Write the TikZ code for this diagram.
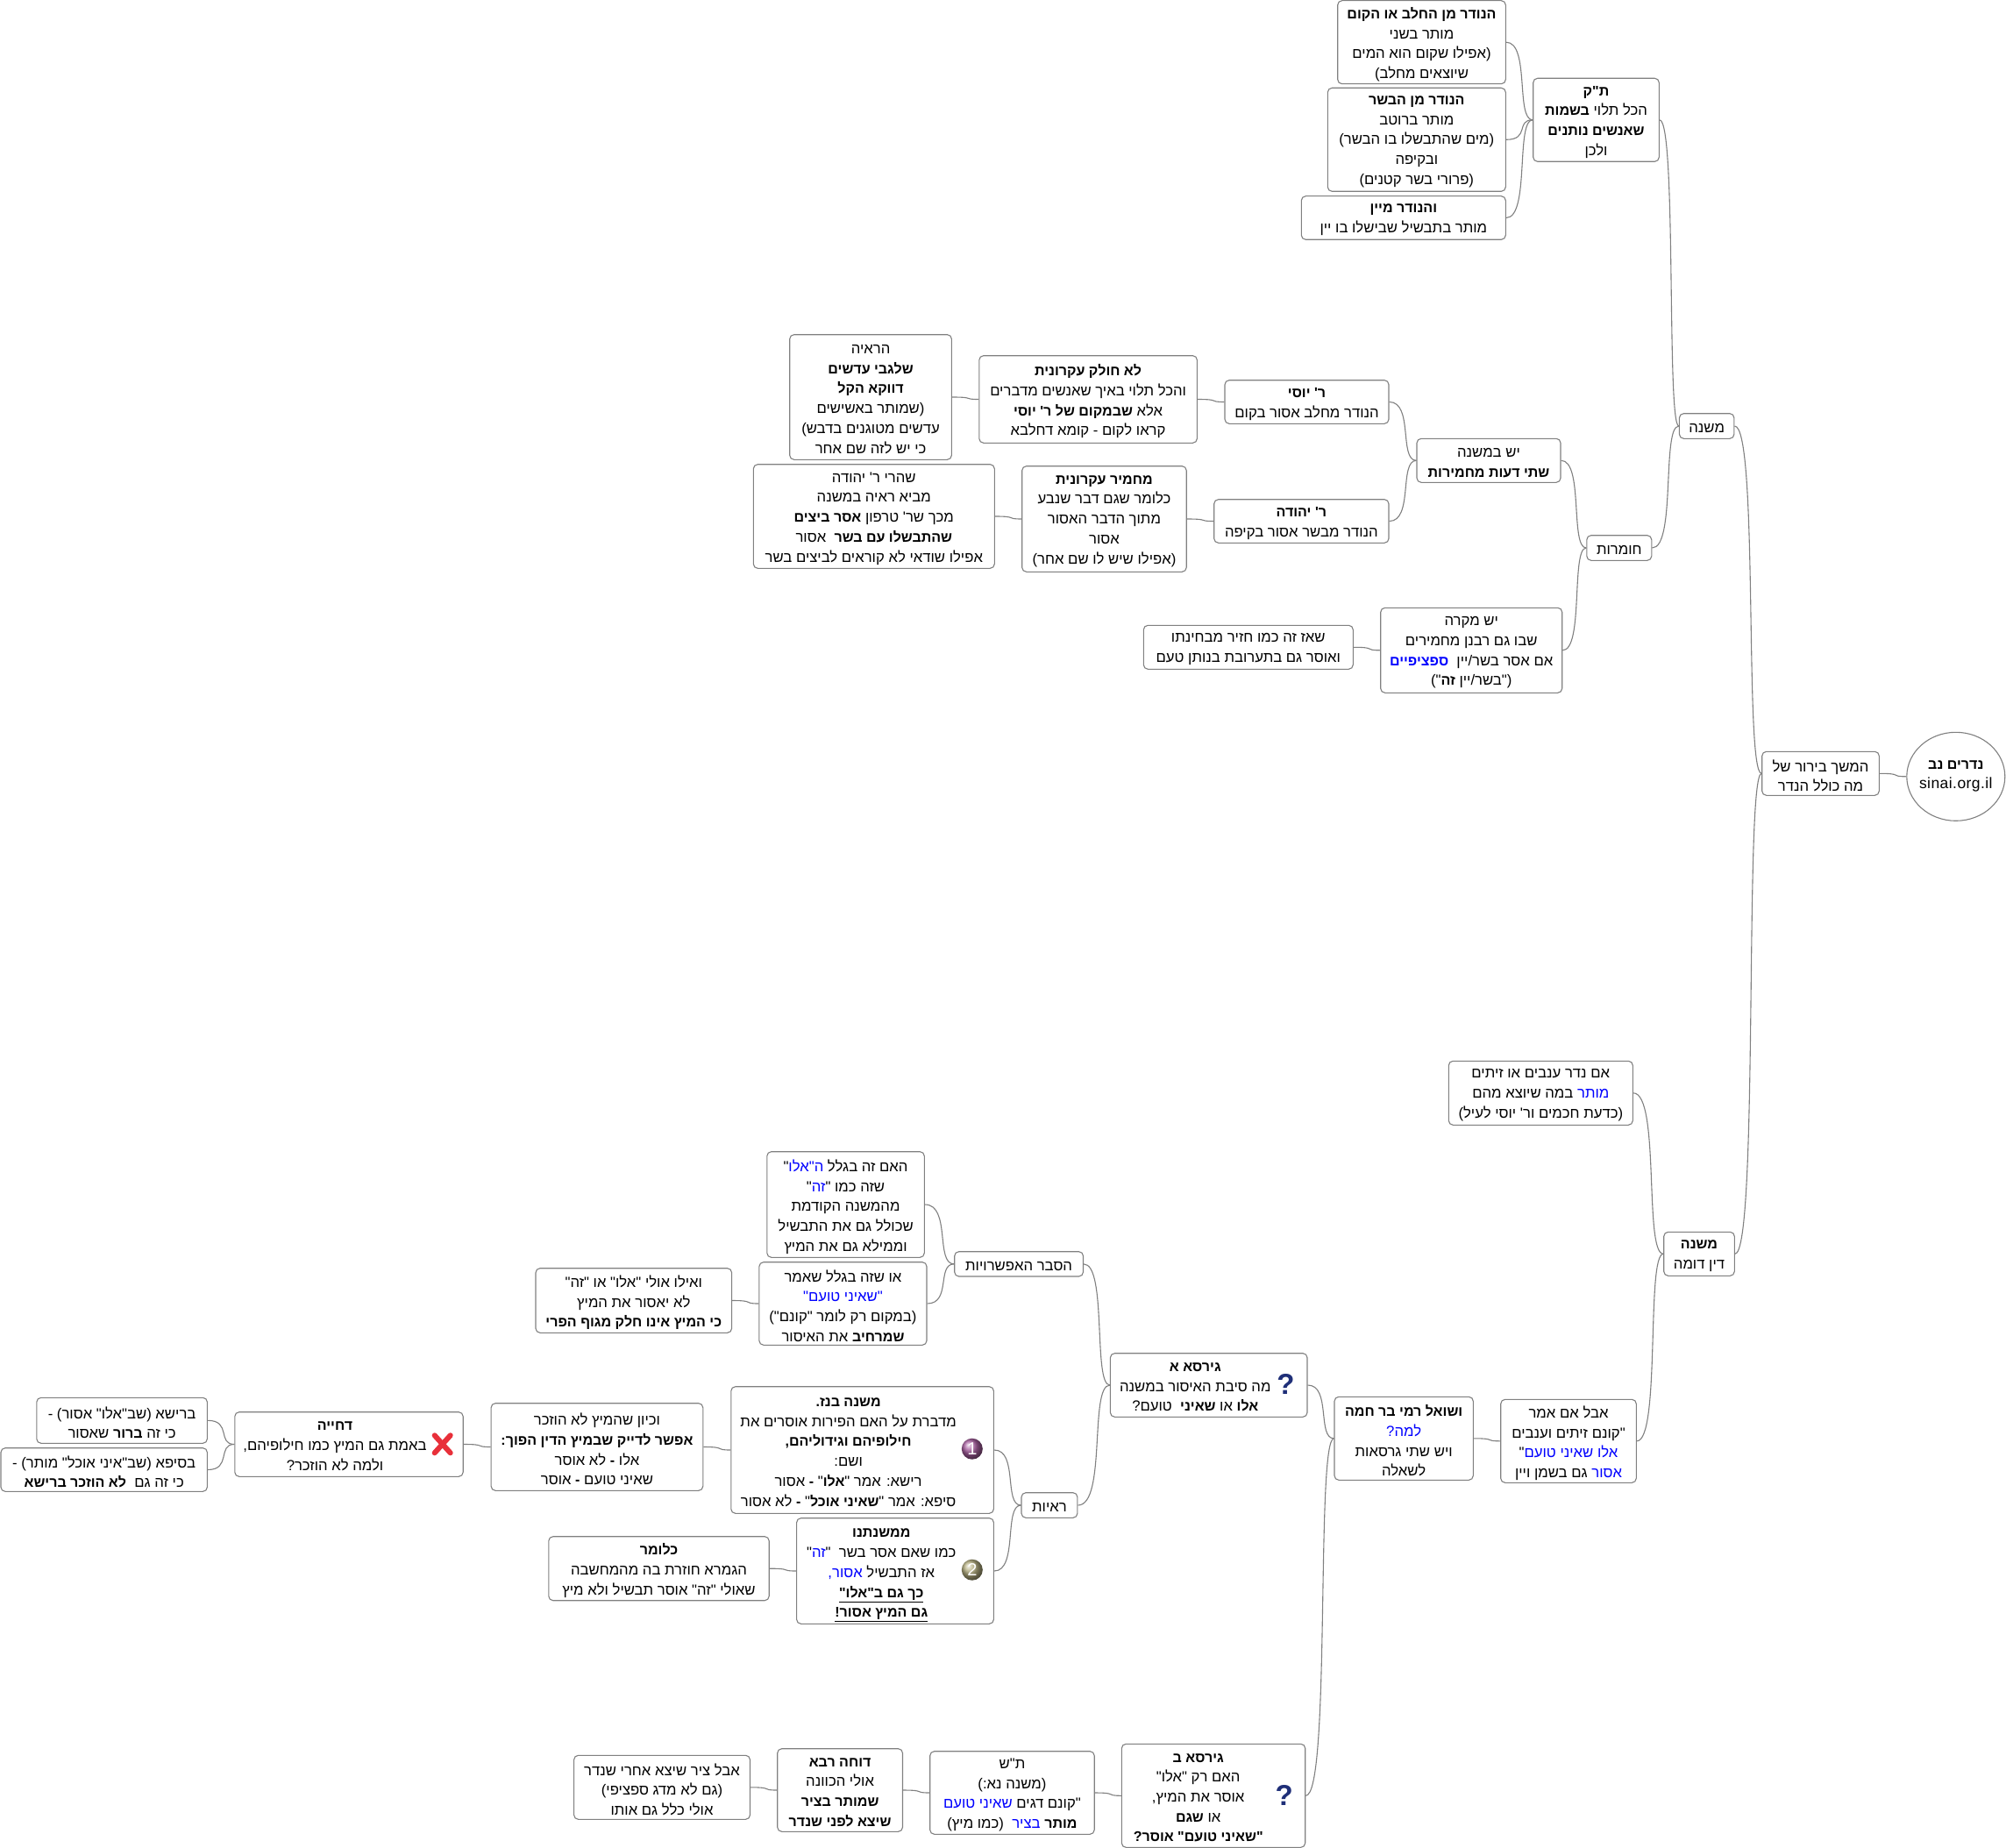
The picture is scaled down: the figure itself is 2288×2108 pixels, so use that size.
\documentclass[tikz,border=0pt]{standalone}
\usepackage{fontspec}
\usetikzlibrary{calc,shapes.geometric}
\TeXXeTstate=1
\newfontfamily\hbf[Script=Hebrew,BoldFeatures={Scale=0.96}]{Liberation Sans}
\newfontfamily\latf{Liberation Sans}
\newfontfamily\latsp[LetterSpace=2.5]{Liberation Sans}
\definecolor{edge}{HTML}{808080}
\definecolor{qmark}{HTML}{1F2F78}
\definecolor{xred}{HTML}{E8303A}
\definecolor{ballone}{HTML}{A85FA0}
\definecolor{balltwo}{HTML}{B5AF80}
\newcommand{\rt}[1]{\leavevmode\beginR#1\endR}
\newcommand{\bd}[1]{\textbf{#1}}
\newcommand{\blu}[1]{\beginL{\color{blue}\beginR#1\endR}\endL}
\newcommand{\ulb}[1]{\leavevmode\smash{\vtop{\hbox{\beginR\textbf{#1}\endR}\kern1.5pt\hrule height 1pt}}\vphantom{a}}
\tikzset{
  base/.style={font=\hbf\fontsize{16.7}{22.7}\selectfont,align=center,inner sep=0pt,text=black},
  mbox/.style={base,draw=edge,line width=1.1pt,rounded corners=5pt,rectangle},
  txt/.style={base},
  rootnode/.style={base,draw=edge,line width=1.1pt,ellipse},
  link/.style={draw=edge,line width=1.1pt},
  qm/.style={font=\latf\bfseries\fontsize{33}{33}\selectfont,text=qmark,inner sep=0pt},
  numball/.style={circle,minimum size=24pt,inner sep=0pt,font=\latf\fontsize{20}{20}\selectfont,text=white,shading=ball},
  xmark/.style={line width=6pt,draw=xred,line cap=round},
}
\newcommand{\mybox}[6]{%
  \pgfmathsetmacro\bw{#4-#2}\pgfmathsetmacro\bh{#5-#3}%
  \node[mbox,minimum width=\bw pt,minimum height=\bh pt] (#1) at ({(#2+#4)/2},{(#3+#5)/2}) {};
  \node[txt] (#1t) at ({(#2+#4)/2},{(#3+#5)/2+2.5}) {#6};}
\newcommand{\iconbox}[7]{% name x1 y1 x2 y2 shift text
  \pgfmathsetmacro\bw{#4-#2}\pgfmathsetmacro\bh{#5-#3}%
  \node[mbox,minimum width=\bw pt,minimum height=\bh pt] (#1) at ({(#2+#4)/2},{(#3+#5)/2}) {};
  \node[txt] (#1t) at ({(#2+#4)/2+#6},{(#3+#5)/2+2.5}) {#7};}
\newcommand{\cn}[2]{%
  \draw[link] let \p1=(#1.east), \p2=(#2.west) in (\p1) .. controls ({\x1+0.9*(\x2-\x1)},\y1) and ({\x1+0.35*(\x2-\x1)},\y2) .. (\p2);}
\begin{document}
\begin{tikzpicture}[x=1pt,y=-1pt]
\useasboundingbox (0,0) rectangle (2288,2108);
\fill[white] (0,0) rectangle (2288,2108);

\node[rootnode,minimum width=112pt,minimum height=101pt] (root) at (2230.8,885.8) {};
\node[txt] (roott) at (2230.8,885.5) {\rt{\bd{נדרים נב}}\\{\latsp\fontsize{17.5}{22.7}\selectfont sinai.org.il}};
\mybox{cont}{2009.7}{857.3}{2143.3}{907.3}{\rt{המשך בירור של}\\\rt{מה כולל הנדר}}

\mybox{mish}{1915.4}{471.7}{1977.9}{500.3}{\rt{משנה}}
\mybox{tk}{1748.7}{89.3}{1892.3}{184.3}{\rt{\bd{ת"ק}}\\\rt{הכל תלוי \bd{בשמות}}\\\rt{\bd{שאנשים נותנים}}\\\rt{ולכן}}
\mybox{aa}{1525.7}{0.7}{1717.3}{95.7}{\rt{\bd{הנודר מן החלב או הקום}}\\\rt{מותר בשני}\\\rt{(אפילו שקום הוא המים}\\\rt{שיוצאים מחלב)}}
\mybox{ab}{1514.3}{100.3}{1717.3}{218.3}{\rt{\bd{הנודר מן הבשר}}\\\rt{מותר ברוטב}\\\rt{(מים שהתבשלו בו הבשר)}\\\rt{ובקיפה}\\\rt{(פרורי בשר קטנים)}}
\mybox{ac}{1484.3}{223.7}{1717.3}{273.3}{\rt{\bd{והנודר מיין}}\\\rt{מותר בתבשיל שבישלו בו יין}}

\mybox{hum}{1809.8}{610.7}{1883.8}{639.3}{\rt{חומרות}}
\mybox{shtei}{1616}{500.3}{1780}{550.3}{\rt{יש במשנה}\\\rt{\bd{שתי דעות מחמירות}}}
\mybox{yosi}{1397}{433.7}{1584}{483.3}{\rt{\bd{ר' יוסי}}\\\rt{הנודר מחלב אסור בקום}}
\mybox{yeh}{1384.7}{569.7}{1584}{619.3}{\rt{\bd{ר' יהודה}}\\\rt{הנודר מבשר אסור בקיפה}}
\mybox{lo}{1116.8}{405.7}{1365.4}{505.3}{\rt{\bd{לא חולק עקרונית}}\\\rt{והכל תלוי באיך שאנשים מדברים}\\\rt{אלא \bd{שבמקום של ר' יוסי}}\\\rt{קראו לקום - קומא דחלבא}}
\mybox{raya}{900.7}{381.7}{1085.4}{524.3}{\rt{הראיה}\\\rt{\bd{שלגבי עדשים}}\\\rt{\bd{דווקא הקל}}\\\rt{(שמותר באשישים}\\\rt{עדשים מטוגנים בדבש)}\\\rt{כי יש לזה שם אחר}}
\mybox{mach}{1165.7}{531.7}{1353.2}{652.3}{\rt{\bd{מחמיר עקרונית}}\\\rt{כלומר שגם דבר שנבע}\\\rt{מתוך הדבר האסור}\\\rt{אסור}\\\rt{(אפילו שיש לו שם אחר)}}
\mybox{sheh}{859.3}{529.7}{1134.3}{648.3}{\rt{שהרי ר' יהודה}\\\rt{מביא ראיה במשנה}\\\rt{מכך שר' טרפון \bd{אסר ביצים}}\\\rt{\bd{שהתבשלו עם בשר}~ אסור}\\\rt{אפילו שודאי לא קוראים לביצים בשר}}
\mybox{mikre}{1574.7}{693.3}{1781.7}{790.3}{\rt{יש מקרה}\\\rt{שבו גם רבנן מחמירים}\\\rt{אם אסר בשר/יין~ \blu{\bd{ספציפיים}}}\\\rt{("בשר/יין \bd{זה}")}}
\mybox{chazir}{1304.3}{713.3}{1543.3}{763.3}{\rt{שאז זה כמו חזיר מבחינתו}\\\rt{ואוסר גם בתערובת בנותן טעם}}

\mybox{din}{1897.7}{1405.3}{1978.3}{1455.3}{\rt{\bd{משנה}}\\\rt{דין דומה}}
\mybox{nadar}{1652.3}{1210.3}{1862.3}{1283.3}{\rt{אם נדר ענבים או זיתים}\\\rt{\blu{מותר} במה שיוצא מהם}\\\rt{(כדעת חכמים ור' יוסי לעיל)}}
\mybox{aval}{1711.7}{1596.3}{1866.3}{1691.3}{\rt{אבל אם אמר}\\\rt{"קונם זיתים וענבים}\\\rt{\blu{אלו שאיני טועם}"}\\\rt{\blu{אסור} גם בשמן ויין}}
\mybox{rami}{1522}{1593.3}{1680.3}{1688.3}{\rt{\bd{ושואל רמי בר חמה}}\\\rt{\blu{למה?}}\\\rt{ויש שתי גרסאות}\\\rt{לשאלה}}

\iconbox{gira}{1266.4}{1543.7}{1491}{1616.3}{-15.4}{\rt{\bd{גירסא א}}\\\rt{מה סיבת האיסור במשנה}\\\rt{\bd{אלו} או \bd{שאיני}~ טועם?}}
\node[qm] (qa) at (1466.4,1579) {?};
\mybox{hesb}{1088.7}{1427.7}{1235.5}{1456}{\rt{הסבר האפשרויות}}
\mybox{haim}{874.8}{1313.7}{1054.3}{1434.3}{\rt{האם זה בגלל \blu{ה"אלו}"}\\\rt{שזה כמו "\blu{זה}"}\\\rt{מהמשנה הקודמת}\\\rt{שכולל גם את התבשיל}\\\rt{וממילא גם את המיץ}}
\mybox{oshe}{865.9}{1439.7}{1057}{1534.3}{\rt{או שזה בגלל שאמר}\\\rt{\blu{"שאיני טועם"}}\\\rt{(במקום רק לומר "קונם")}\\\rt{\bd{שמרחיב} את האיסור}}
\mybox{veilu}{611}{1446.7}{834.6}{1520.3}{\rt{ואילו אולי "אלו" או "זה"}\\\rt{לא יאסור את המיץ}\\\rt{\bd{כי המיץ אינו חלק מגוף הפרי}}}
\mybox{rayot}{1165}{1702.7}{1228.9}{1731.3}{\rt{ראיות}}
\iconbox{bnz}{833.8}{1581.7}{1133.4}{1726.3}{-16}{\rt{\bd{משנה בנז.}}\\\rt{מדברת על האם הפירות אוסרים את}\\\rt{\bd{חילופיהם וגידוליהם,}}\\\rt{ושם:}\\\rt{רישא: אמר "\bd{אלו}" \bd{-} אסור}\\\rt{סיפא: אמר "\bd{שאיני אוכל}" \bd{-} לא אסור}}
\node[numball,ball color=ballone] (one) at (1108.8,1652.7) {1};
\iconbox{mimsh}{908.6}{1731.7}{1133.4}{1852.3}{-15.7}{\rt{\bd{ממשנתנו}}\\\rt{כמו שאם אסר בשר~ "\blu{זה}"}\\\rt{אז התבשיל \blu{אסור,}}\\\ulb{כך גם ב"אלו"}\\\ulb{גם המיץ אסור!}}
\node[numball,ball color=balltwo] (two) at (1108.8,1790.7) {2};
\mybox{klomar}{625.8}{1752.7}{877.2}{1825.7}{\rt{\bd{כלומר}}\\\rt{הגמרא חוזרת בה מהמחשבה}\\\rt{שאולי "זה" אוסר תבשיל ולא מיץ}}
\mybox{kevan}{560.1}{1600.7}{801.8}{1700.3}{\rt{וכיון שהמיץ לא הוזכר}\\\rt{\bd{אפשר לדייק שבמיץ הדין הפוך:}}\\\rt{אלו \bd{-} לא אוסר}\\\rt{שאיני טועם \bd{-} אוסר}}
\iconbox{dech}{267.8}{1610.7}{528.2}{1684.3}{-16}{\rt{\bd{דחייה}}\\\rt{באמת גם המיץ כמו חילופיהם,}\\\rt{ולמה לא הוזכר?}}
\draw[xmark] (495.7,1637.3) -- (513.7,1657.3);
\draw[xmark] (513.7,1637.3) -- (495.7,1657.3);
\mybox{reis}{41.8}{1594.3}{236.4}{1646.3}{\rt{ברישא (שב"אלו" אסור) -}\\\rt{כי זה \bd{ברור} שאסור}}
\mybox{seif}{1}{1651.7}{236.4}{1701.3}{\rt{בסיפא (שב"איני אוכל" מותר) -}\\\rt{כי זה גם~ \bd{לא הוזכר ברישא}}}

\iconbox{girb}{1279.3}{1989.3}{1488.7}{2107.3}{-17.3}{\rt{\bd{גירסא ב}}\\\rt{האם רק "אלו"}\\\rt{אוסר את המיץ,}\\\rt{או \bd{שגם}}\\\rt{\bd{"שאיני טועם" אוסר?}}}
\node[qm] (qb) at (1464.7,2047.5) {?};
\mybox{tash}{1060.7}{1997.7}{1248.2}{2092.3}{\rt{ת"ש}\\\rt{(משנה נא:)}\\\rt{"קונם דגים \blu{שאיני טועם}}\\\rt{\bd{מותר} \blu{בציר}~ (כמו מיץ)}}
\mybox{doche}{886.7}{1994.7}{1029.5}{2089.3}{\rt{\bd{דוחה רבא}}\\\rt{אולי הכוונה}\\\rt{\bd{שמותר בציר}}\\\rt{\bd{שיצא לפני שנדר}}}
\mybox{tzir}{654.6}{2002.3}{855.5}{2075.3}{\rt{אבל ציר שיצא אחרי שנדר}\\\rt{(גם לא מדג ספציפי)}\\\rt{אולי כלל גם אותו}}

\cn{cont}{root}
\cn{mish}{cont}
\cn{din}{cont}
\cn{tk}{mish}
\cn{hum}{mish}
\cn{aa}{tk}
\cn{ab}{tk}
\cn{ac}{tk}
\cn{shtei}{hum}
\cn{mikre}{hum}
\cn{yosi}{shtei}
\cn{yeh}{shtei}
\cn{lo}{yosi}
\cn{raya}{lo}
\cn{mach}{yeh}
\cn{sheh}{mach}
\cn{chazir}{mikre}
\cn{nadar}{din}
\cn{aval}{din}
\cn{rami}{aval}
\cn{gira}{rami}
\cn{girb}{rami}
\cn{hesb}{gira}
\cn{rayot}{gira}
\cn{haim}{hesb}
\cn{oshe}{hesb}
\cn{veilu}{oshe}
\cn{bnz}{rayot}
\cn{mimsh}{rayot}
\cn{kevan}{bnz}
\cn{dech}{kevan}
\cn{reis}{dech}
\cn{seif}{dech}
\cn{klomar}{mimsh}
\cn{tash}{girb}
\cn{doche}{tash}
\cn{tzir}{doche}
\end{tikzpicture}
\end{document}
